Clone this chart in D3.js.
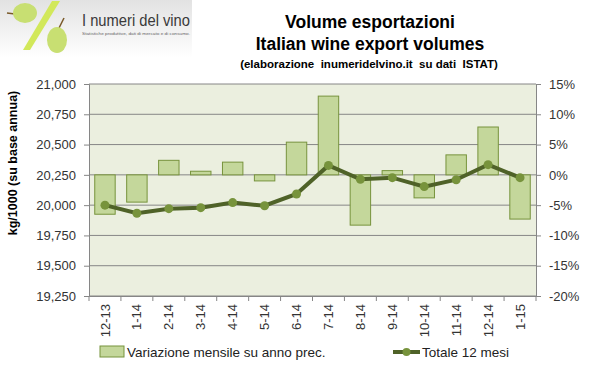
<!DOCTYPE html>
<html>
<head>
<style>
  body, html { margin: 0; padding: 0; background: #fff; }
  svg { display: block; font-family: Arial, "Liberation Sans", sans-serif; }
</style>
</head>
<body>
<svg id="svg" width="600" height="373"></svg>
<script src="https://d3js.org/d3.v7.min.js"></script>
<script>
const months = ['12-13','1-14','2-14','3-14','4-14','5-14','6-14','7-14','8-14','9-14','10-14','11-14','12-14','1-15']
const monthlyChange = [-6.5, -4.5, 2.4, 0.6, 2.1, -1.0, 5.4, 13.0, -8.3, 0.7, -3.8, 3.3, 7.9, -7.3]
const total12 = [20000, 19933, 19971, 19979, 20021, 19995, 20092, 20328, 20213, 20227, 20153, 20210, 20334, 20227]
const leftTicks = [19250, 19500, 19750, 20000, 20250, 20500, 20750, 21000]
const rightTicks = [-20, -15, -10, -5, 0, 5, 10, 15]

const svg = d3.select('#svg')
const plotLeft = 89, plotRight = 536, plotTop = 84, plotBottom = 296

// logo
const defs = svg.append('defs')
const g1 = defs.append('linearGradient').attr('id', 'lg').attr('x1', 0).attr('y1', 0).attr('x2', 0).attr('y2', 1)
g1.append('stop').attr('offset', '0%').attr('stop-color', '#e2e2e2')
g1.append('stop').attr('offset', '100%').attr('stop-color', '#ffffff')
const logo = svg.append('g')
logo.append('rect').attr('x', 0).attr('y', 0).attr('width', 192).attr('height', 58).attr('fill', 'url(#lg)')
logo.append('polygon').attr('points', '52,1 60,1 30,50 23,50').attr('fill', '#d2e85a')
logo.append('line').attr('x1', 7).attr('y1', 13).attr('x2', 15).attr('y2', 14).attr('stroke', '#7a5a2a').attr('stroke-width', 1.5)
logo.append('ellipse').attr('cx', 25).attr('cy', 13).attr('rx', 12).attr('ry', 10).attr('fill', '#c8df72')
logo.append('line').attr('x1', 59).attr('y1', 28).attr('x2', 64).attr('y2', 18).attr('stroke', '#7a5a2a').attr('stroke-width', 1.5)
logo.append('ellipse').attr('cx', 57).attr('cy', 40).attr('rx', 10).attr('ry', 13).attr('fill', '#c8df72')
logo.append('text').attr('x', 82).attr('y', 26).attr('font-size', 17).attr('fill', '#3a3a3a')
  .attr('textLength', 108).attr('lengthAdjust', 'spacingAndGlyphs')
  .text('I numeri del vino')
logo.append('text').attr('x', 82).attr('y', 35).attr('font-size', 4.2).attr('fill', '#666')
  .attr('textLength', 108).attr('lengthAdjust', 'spacingAndGlyphs')
  .text('Statistiche produttive, dati di mercato e di consumo.')

// titles
svg.append('text').attr('x', 370).attr('y', 28).attr('text-anchor', 'middle')
  .attr('font-size', 17.5).attr('font-weight', 'bold').text('Volume esportazioni')
svg.append('text').attr('x', 370).attr('y', 50).attr('text-anchor', 'middle')
  .attr('font-size', 17.5).attr('font-weight', 'bold').text('Italian wine export volumes')
svg.append('text').attr('x', 369).attr('y', 68).attr('text-anchor', 'middle')
  .attr('font-size', 11.5).attr('font-weight', 'bold').attr('xml:space', 'preserve')
  .text('(elaborazione  inumeridelvino.it  su dati  ISTAT)')

const x = d3.scaleBand().domain(months).range([plotLeft, plotRight]).paddingInner(0.36).paddingOuter(0.18)
const xc = d3.scaleBand().domain(months).range([plotLeft, plotRight])
const yL = d3.scaleLinear().domain([19250, 21000]).range([plotBottom, plotTop])
const yR = d3.scaleLinear().domain([-20, 15]).range([plotBottom, plotTop])

// plot area
svg.append('rect').attr('x', plotLeft).attr('y', plotTop).attr('width', plotRight - plotLeft).attr('height', plotBottom - plotTop)
  .attr('fill', '#ebefdf')
svg.append('g').selectAll('line').data(leftTicks).join('line')
  .attr('x1', plotLeft).attr('x2', plotRight).attr('y1', d => yL(d)).attr('y2', d => yL(d))
  .attr('stroke', '#868686').attr('stroke-width', 1)

// bars
svg.append('g').selectAll('rect').data(monthlyChange).join('rect')
  .attr('x', (d, i) => x(months[i]))
  .attr('width', x.bandwidth())
  .attr('y', d => yR(Math.max(0, d)))
  .attr('height', d => Math.abs(yR(d) - yR(0)))
  .attr('fill', '#c4d79b').attr('stroke', '#77933c').attr('stroke-width', 1)

// line
const line = d3.line().x((d, i) => xc(months[i]) + xc.bandwidth() / 2).y(d => yL(d))
svg.append('path').datum(total12).attr('d', line).attr('fill', 'none')
  .attr('stroke', '#4f6228').attr('stroke-width', 4)
svg.append('g').selectAll('circle').data(total12).join('circle')
  .attr('cx', (d, i) => xc(months[i]) + xc.bandwidth() / 2).attr('cy', d => yL(d)).attr('r', 4.5)
  .attr('fill', '#77933c')

// axes
const axL = svg.append('g').attr('transform', `translate(${plotLeft},0)`)
  .call(d3.axisLeft(yL).tickValues(leftTicks).tickFormat(d3.format(',')).tickSize(5).tickPadding(8))
const axR = svg.append('g').attr('transform', `translate(${plotRight},0)`)
  .call(d3.axisRight(yR).tickValues(rightTicks).tickFormat(d => d + '%').tickSize(5).tickPadding(8))
const axB = svg.append('g').attr('transform', `translate(0,${plotBottom})`)
  .call(d3.axisBottom(xc).tickSize(0).tickPadding(0))
axB.selectAll('.tick').append('line').attr('x1', -xc.bandwidth() / 2).attr('x2', -xc.bandwidth() / 2)
  .attr('y1', 0).attr('y2', 5).attr('stroke', '#868686')
axB.append('line').attr('x1', plotRight).attr('x2', plotRight).attr('y1', 0).attr('y2', 5).attr('stroke', '#868686')
axB.selectAll('.tick text').attr('transform', 'rotate(-90)').attr('text-anchor', 'end')
  .attr('x', -8).attr('y', 0).attr('dy', '0.35em')
for (const ax of [axL, axR, axB]) {
  ax.select('.domain').attr('stroke', '#868686')
  ax.selectAll('.tick line').attr('stroke', '#868686')
  ax.selectAll('.tick text').attr('font-size', 13).attr('fill', '#333').attr('font-family', 'Arial, "Liberation Sans", sans-serif')
}

// y axis title
svg.append('text').attr('transform', 'translate(17,163) rotate(-90)').attr('text-anchor', 'middle')
  .attr('font-size', 12.5).attr('font-weight', 'bold').text('kg/1000 (su base annua)')

// legend
const lg = svg.append('g').attr('font-size', 13.5).attr('fill', '#222')
lg.append('rect').attr('x', 100).attr('y', 346).attr('width', 24).attr('height', 11)
  .attr('fill', '#c4d79b').attr('stroke', '#77933c')
lg.append('text').attr('x', 127).attr('y', 357).text('Variazione mensile su anno prec.')
lg.append('line').attr('x1', 393).attr('x2', 420).attr('y1', 352).attr('y2', 352)
  .attr('stroke', '#4f6228').attr('stroke-width', 4)
lg.append('circle').attr('cx', 406.5).attr('cy', 352).attr('r', 4).attr('fill', '#77933c')
lg.append('text').attr('x', 422).attr('y', 357).text('Totale 12 mesi')
</script>
</body>
</html>
